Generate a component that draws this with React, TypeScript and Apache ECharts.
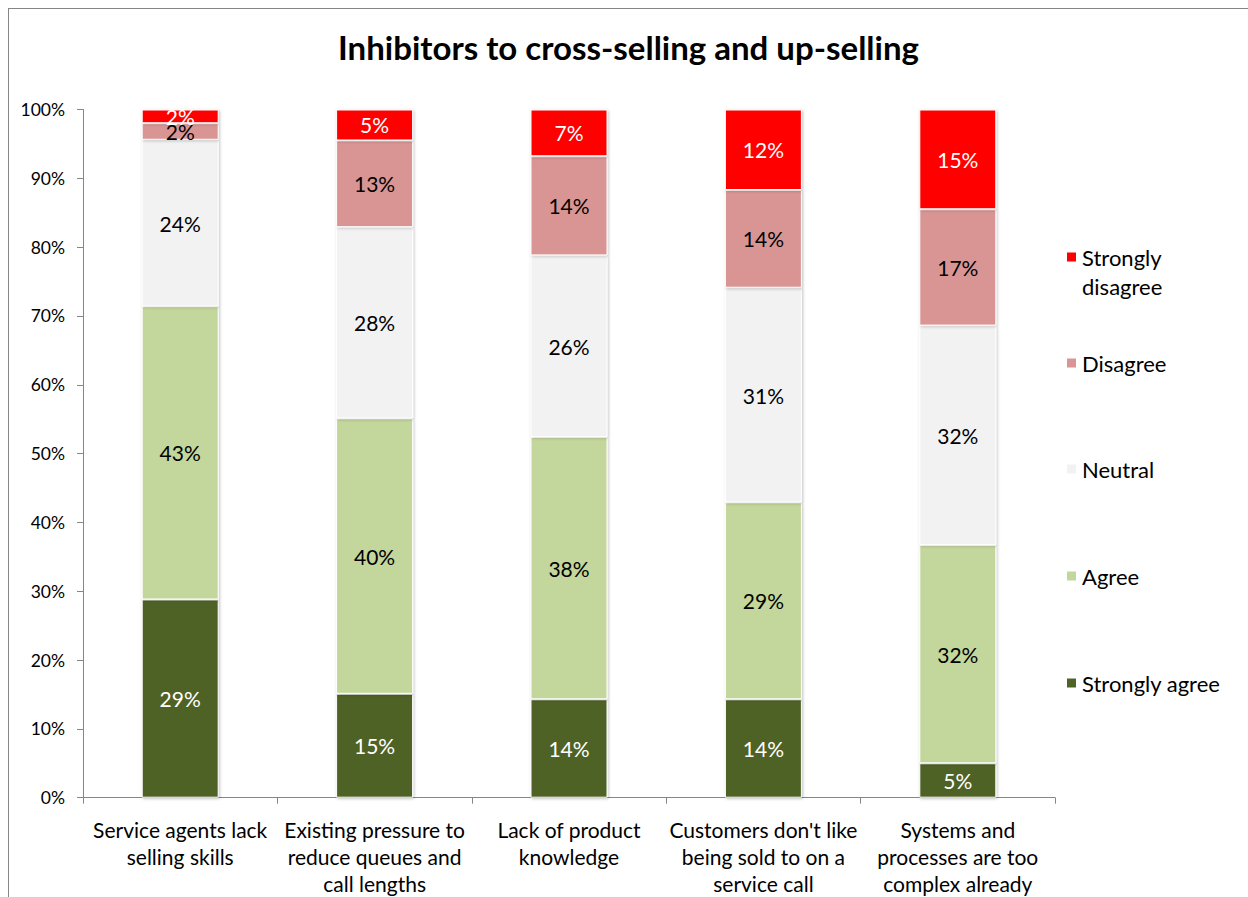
import React, { useEffect, useRef } from "react";
import * as echarts from "echarts";

const categories = [
  "Service agents lack\nselling skills",
  "Existing pressure to\nreduce queues and\ncall lengths",
  "Lack of product\nknowledge",
  "Customers don't like\nbeing sold to on a\nservice call",
  "Systems and\nprocesses are too\ncomplex already",
];
const yTicks = [0, 10, 20, 30, 40, 50, 60, 70, 80, 90, 100];
const stronglyAgree = [28.8, 15.1, 14.3, 14.3, 5.0];
const agree = [42.6, 40.0, 38.1, 28.6, 31.7];
const neutral = [24.2, 27.8, 26.4, 31.2, 31.9];
const disagree = [2.4, 12.6, 14.4, 14.2, 16.9];
const stronglyDisagree = [2.0, 4.5, 6.8, 11.7, 14.5];

const seriesNames = ["Strongly agree", "Agree", "Neutral", "Disagree", "Strongly disagree"];
const seriesData = [stronglyAgree, agree, neutral, disagree, stronglyDisagree];
const seriesColors = ["#4F6228", "#C3D69B", "#F2F2F2", "#D99594", "#FF0000"];
const labelColors = ["#FFFFFF", "#000000", "#000000", "#000000", "#FFFFFF"];

const FONT = "Lato, 'Open Sans', sans-serif";

export default function App() {
  const ref = useRef<HTMLDivElement>(null);
  useEffect(() => {
    if (!ref.current) return;
    const chart = echarts.init(ref.current, undefined, { renderer: "svg" });
    const legendOrder = [4, 3, 2, 1, 0];
    const legendCenters = [248, 354, 460, 567, 674];
    const lh = 29;
    const legends = legendOrder.map((si, k) => {
      const multi = si === 4;
      return {
        data: [seriesNames[si]],
        orient: "vertical",
        left: 1056,
        top: multi ? legendCenters[k] - lh * 1.5 : legendCenters[k] - lh / 2,
        padding: 0,
        icon: "rect",
        itemWidth: 11,
        itemHeight: 11,
        itemGap: 0,
        selectedMode: false,
        formatter: (n: string) => (n === "Strongly disagree" ? "\nStrongly\ndisagree" : n),
        textStyle: {
          fontFamily: FONT,
          fontSize: 22,
          color: "#000",
          lineHeight: lh,
        },
      };
    });
    chart.setOption({
      animation: false,
      backgroundColor: "#ffffff",
      title: {
        text: "Inhibitors to cross-selling and up-selling",
        left: "center",
        top: 14,
        textStyle: { fontFamily: FONT, fontSize: 33, fontWeight: "bold", color: "#000", lineHeight: 38 },
      },
      legend: legends,
      grid: { left: 74, top: 100.5, right: 193, bottom: 99.3, containLabel: false },
      xAxis: {
        type: "category",
        data: categories,
        axisLine: { lineStyle: { color: "#868686", width: 1 } },
        axisTick: { show: true, length: 6, alignWithLabel: false, lineStyle: { color: "#868686" } },
        axisLabel: {
          interval: 0,
          margin: 18,
          fontFamily: FONT,
          fontSize: 21,
          color: "#000",
          lineHeight: 27,
        },
      },
      yAxis: {
        type: "value",
        min: yTicks[0],
        max: yTicks[yTicks.length - 1],
        interval: 10,
        splitLine: { show: false },
        axisLine: { show: true, lineStyle: { color: "#868686", width: 1 } },
        axisTick: { show: true, length: 6, lineStyle: { color: "#868686" } },
        axisLabel: {
          margin: 18,
          fontFamily: FONT,
          fontSize: 17.5,
          color: "#000",
          formatter: (v: number) => v + "%",
        },
      },
      series: seriesNames.map((name, i) => ({
        name,
        type: "bar",
        stack: "total",
        barWidth: 77,
        data: seriesData[i],
        itemStyle: {
          color: seriesColors[i],
          borderColor: "#ffffff",
          borderWidth: 1,
          shadowColor: "rgba(0,0,0,0.25)",
          shadowBlur: 3,
          shadowOffsetX: 1,
          shadowOffsetY: 1,
        },
        label: {
          show: true,
          position: "inside",
          fontFamily: FONT,
          fontSize: 21,
          color: labelColors[i],
          formatter: (p: any) => Math.round(p.value) + "%",
        },
      })),
    });
    return () => chart.dispose();
  }, []);
  return (
    <div
      style={{
        position: "fixed",
        left: 8,
        top: 8,
        width: 1240,
        height: 889,
        borderLeft: "1px solid #868686",
        borderTop: "1px solid #868686",
        boxSizing: "border-box",
        background: "#fff",
      }}
    >
      <div ref={ref} style={{ width: 1239, height: 888 }} />
    </div>
  );
}
